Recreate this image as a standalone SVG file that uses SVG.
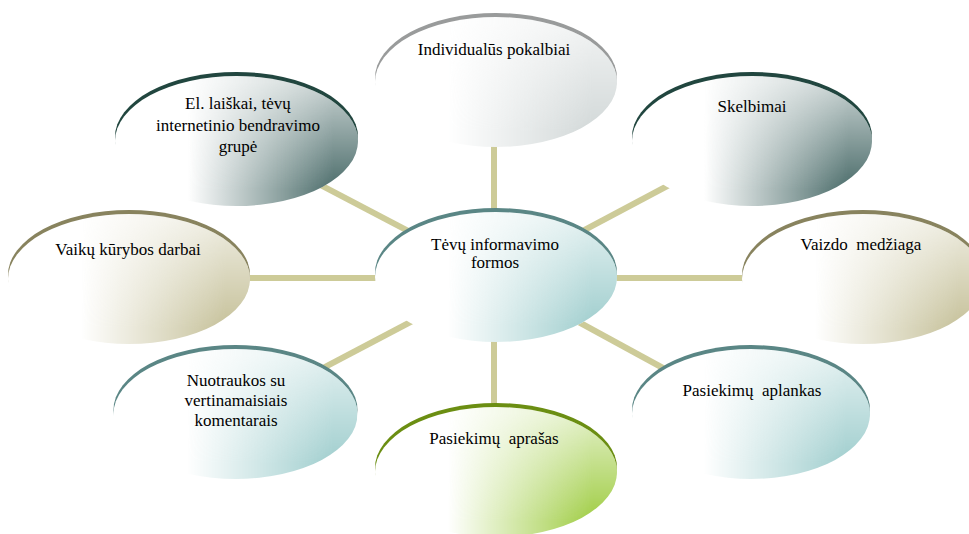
<svg xmlns="http://www.w3.org/2000/svg" width="969" height="534" viewBox="0 0 969 534">
<defs>
<linearGradient id="mxg" x1="0" y1="0" x2="1" y2="0"><stop offset="0.3" stop-color="#fff" stop-opacity="0"/><stop offset="0.9" stop-color="#fff" stop-opacity="1"/></linearGradient>
<linearGradient id="myg" x1="0" y1="0" x2="0" y2="1"><stop offset="0.05" stop-color="#fff" stop-opacity="0.3"/><stop offset="0.88" stop-color="#fff" stop-opacity="1"/></linearGradient>
<mask id="mx" maskContentUnits="objectBoundingBox"><rect width="1" height="1" fill="url(#mxg)"/></mask>
<mask id="my" maskContentUnits="objectBoundingBox"><rect width="1" height="1" fill="url(#myg)"/></mask>
</defs>
<style>
.c{stroke:#cdcb98;stroke-width:6;fill:none}
.rGray{fill:#999b9b}.rDark{fill:#21463f}.rOlive{fill:#88835e}.rTeal{fill:#5a8685}.rGreen{fill:#6b8e12}
.w{fill:#ffffff}
.fGray{fill:#d2d8d8}.fDark{fill:#4b6c6a}.fOlive{fill:#c6c19a}.fTeal{fill:#a0cece}.fGreen{fill:#a0cd45}
</style>
<rect width="969" height="534" fill="#ffffff"/>
<g id="connectors">
<line class="c" x1="494" y1="120" x2="494" y2="240"/>
<line class="c" x1="236.5" y1="141" x2="496" y2="277"/>
<line class="c" x1="752" y1="141" x2="496" y2="277"/>
<line class="c" x1="129" y1="278" x2="496" y2="278"/>
<line class="c" x1="863" y1="278" x2="496" y2="278"/>
<line class="c" x1="235.5" y1="414" x2="496" y2="277"/>
<line class="c" x1="494" y1="300" x2="494" y2="450"/>
<line class="c" x1="751" y1="416" x2="496" y2="277"/>
</g>
<g font-family="Liberation Serif" font-size="17" text-anchor="middle" fill="#000000">
<g id="individualus">
<ellipse class="rGray" cx="496" cy="78" rx="121" ry="65"/>
<ellipse class="w" cx="496" cy="82" rx="121" ry="65"/>
<g mask="url(#my)"><ellipse class="fGray" cx="496" cy="82" rx="121" ry="65" mask="url(#mx)"/></g>
<text x="494" y="55" font-family="Liberation Serif">Individualūs pokalbiai</text>
</g>
<g id="el-laiskai">
<ellipse class="rDark" cx="236.5" cy="137" rx="121.5" ry="65"/>
<ellipse class="w" cx="236.5" cy="141" rx="121.5" ry="65"/>
<g mask="url(#my)"><ellipse class="fDark" cx="236.5" cy="141" rx="121.5" ry="65" mask="url(#mx)"/></g>
<text x="238" y="109" font-family="Liberation Serif">El. laiškai, tėvų</text>
<text x="238" y="131" font-family="Liberation Serif">internetinio bendravimo</text>
<text x="238" y="152" font-family="Liberation Serif">grupė</text>
</g>
<g id="skelbimai">
<ellipse class="rDark" cx="752" cy="137" rx="120" ry="65"/>
<ellipse class="w" cx="752" cy="141" rx="120" ry="65"/>
<g mask="url(#my)"><ellipse class="fDark" cx="752" cy="141" rx="120" ry="65" mask="url(#mx)"/></g>
<text x="752" y="112" font-family="Liberation Serif">Skelbimai</text>
</g>
<g id="vaiku-kurybos">
<ellipse class="rOlive" cx="129" cy="275" rx="121" ry="65"/>
<ellipse class="w" cx="129" cy="279" rx="121" ry="65"/>
<g mask="url(#my)"><ellipse class="fOlive" cx="129" cy="279" rx="121" ry="65" mask="url(#mx)"/></g>
<text x="128" y="255" font-family="Liberation Serif">Vaikų kūrybos darbai</text>
</g>
<g id="center">
<ellipse class="rTeal" cx="496" cy="273" rx="121" ry="65"/>
<ellipse class="w" cx="496" cy="277" rx="121" ry="65"/>
<g mask="url(#my)"><ellipse class="fTeal" cx="496" cy="277" rx="121" ry="65" mask="url(#mx)"/></g>
<text x="495" y="250" font-family="Liberation Serif">Tėvų informavimo</text>
<text x="495" y="268" font-family="Liberation Serif">formos</text>
</g>
<g id="vaizdo">
<ellipse class="rOlive" cx="863" cy="275" rx="121" ry="65"/>
<ellipse class="w" cx="863" cy="279" rx="121" ry="65"/>
<g mask="url(#my)"><ellipse class="fOlive" cx="863" cy="279" rx="121" ry="65" mask="url(#mx)"/></g>
<text x="861" y="250" font-family="Liberation Serif" xml:space="preserve">Vaizdo  medžiaga</text>
</g>
<g id="nuotraukos">
<ellipse class="rTeal" cx="235.5" cy="410" rx="122" ry="65"/>
<ellipse class="w" cx="235.5" cy="414" rx="122" ry="65"/>
<g mask="url(#my)"><ellipse class="fTeal" cx="235.5" cy="414" rx="122" ry="65" mask="url(#mx)"/></g>
<text x="236" y="386" font-family="Liberation Serif">Nuotraukos su</text>
<text x="236" y="406" font-family="Liberation Serif">vertinamaisiais</text>
<text x="236" y="426" font-family="Liberation Serif">komentarais</text>
</g>
<g id="aprasas">
<ellipse class="rGreen" cx="496" cy="468" rx="121" ry="65"/>
<ellipse class="w" cx="496" cy="472" rx="121" ry="65"/>
<g mask="url(#my)"><ellipse class="fGreen" cx="496" cy="472" rx="121" ry="65" mask="url(#mx)"/></g>
<text x="494" y="444" font-family="Liberation Serif" xml:space="preserve">Pasiekimų  aprašas</text>
</g>
<g id="aplankas">
<ellipse class="rTeal" cx="751" cy="410" rx="119" ry="65"/>
<ellipse class="w" cx="751" cy="414" rx="119" ry="65"/>
<g mask="url(#my)"><ellipse class="fTeal" cx="751" cy="414" rx="119" ry="65" mask="url(#mx)"/></g>
<text x="752" y="396" font-family="Liberation Serif" xml:space="preserve">Pasiekimų  aplankas</text>
</g>
</g>
</svg>
